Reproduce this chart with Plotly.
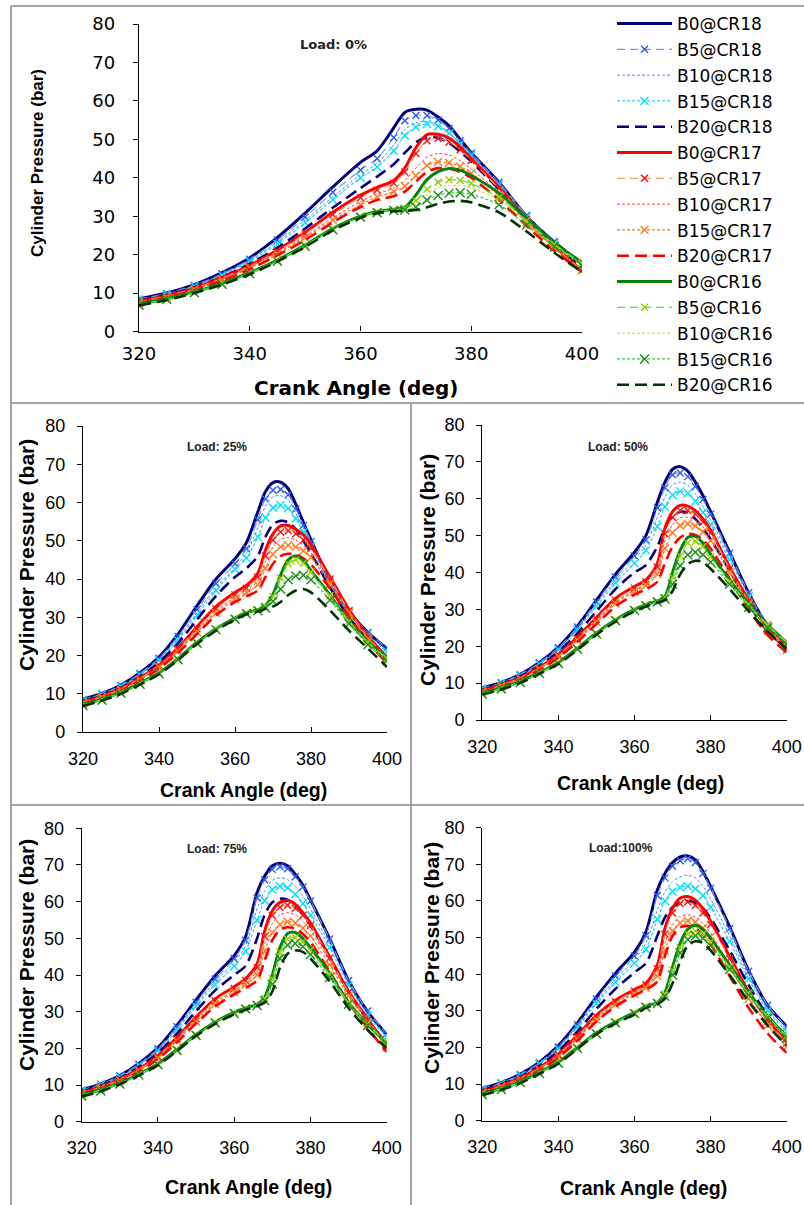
import plotly.graph_objects as go

# ---------------- data ----------------
CRANK_ANGLE = [320, 325, 330, 335, 340, 345, 350, 355, 360, 363, 366, 368,
               370, 372, 374, 376, 378, 380, 385, 390, 395, 400]

SERIES = ["B0@CR18", "B5@CR18", "B10@CR18", "B15@CR18", "B20@CR18",
          "B0@CR17", "B5@CR17", "B10@CR17", "B15@CR17", "B20@CR17",
          "B0@CR16", "B5@CR16", "B10@CR16", "B15@CR16", "B20@CR16"]

LOAD_LABELS = ["Load: 0%", "Load: 25%", "Load: 50%", "Load: 75%", "Load:100%"]

P_LOAD0 = [
    [8.5, 10.0, 12.2, 15.3, 19.2, 24.5, 30.8, 37.6, 44.0, 47.0, 53.0, 57.0, 57.8, 57.6, 55.8, 53.5, 50.0, 46.5, 38.8, 30.0, 23.3, 17.6],
    [8.4, 9.9, 12.0, 15.0, 18.8, 23.8, 29.8, 36.2, 42.0, 45.0, 50.5, 54.8, 56.2, 56.2, 55.0, 52.8, 49.6, 46.4, 38.8, 30.2, 23.4, 17.9],
    [8.3, 9.8, 11.9, 14.8, 18.5, 23.3, 29.0, 35.0, 40.8, 43.8, 48.5, 52.5, 54.3, 54.6, 53.7, 51.8, 49.0, 46.0, 38.4, 30.0, 23.2, 17.6],
    [8.2, 9.7, 11.8, 14.6, 18.2, 22.8, 28.3, 34.3, 40.0, 42.8, 47.0, 51.0, 53.2, 54.0, 53.4, 51.6, 48.8, 45.8, 38.2, 29.8, 23.0, 17.3],
    [8.0, 9.5, 11.5, 14.2, 17.6, 21.8, 26.8, 32.2, 37.3, 40.3, 43.5, 46.5, 49.2, 50.5, 50.4, 49.0, 46.8, 44.2, 37.0, 29.0, 22.3, 16.8],
    [7.8, 9.3, 11.3, 14.0, 17.2, 21.2, 25.8, 31.0, 35.5, 37.5, 39.3, 42.5, 47.8, 51.2, 51.3, 50.3, 48.0, 45.0, 37.5, 29.3, 22.2, 15.8],
    [7.7, 9.2, 11.2, 13.8, 17.0, 20.9, 25.4, 30.4, 34.8, 36.8, 38.6, 41.5, 46.3, 49.6, 50.2, 49.3, 47.3, 44.5, 37.2, 29.2, 22.0, 15.9],
    [7.6, 9.1, 11.0, 13.6, 16.7, 20.5, 24.8, 29.6, 33.8, 35.8, 37.3, 39.3, 42.5, 45.3, 46.3, 45.9, 44.4, 42.3, 36.0, 28.6, 21.8, 15.8],
    [7.5, 9.0, 10.9, 13.4, 16.5, 20.2, 24.4, 29.0, 33.0, 35.0, 36.4, 37.8, 40.6, 43.2, 44.1, 43.9, 42.9, 41.2, 35.4, 28.3, 21.8, 16.1],
    [7.4, 8.8, 10.7, 13.2, 16.2, 19.8, 23.8, 28.4, 32.4, 34.2, 35.2, 36.4, 39.0, 41.5, 42.5, 42.4, 41.5, 40.0, 34.3, 27.5, 21.0, 15.5],
    [7.2, 8.5, 10.3, 12.6, 15.3, 18.6, 22.5, 26.8, 30.0, 31.2, 31.8, 32.3, 35.5, 39.5, 41.6, 42.4, 42.0, 40.6, 36.0, 29.5, 23.0, 18.0],
    [7.0, 8.4, 10.2, 12.5, 15.2, 18.5, 22.4, 26.7, 29.9, 31.1, 31.7, 32.0, 34.0, 37.0, 38.8, 39.5, 39.3, 38.5, 34.8, 28.8, 22.7, 17.8],
    [7.0, 8.4, 10.2, 12.4, 15.1, 18.4, 22.3, 26.6, 29.8, 31.0, 31.6, 31.8, 33.3, 35.8, 37.4, 38.0, 38.0, 37.5, 34.2, 28.4, 22.4, 17.6],
    [6.8, 8.3, 10.1, 12.3, 15.0, 18.3, 22.2, 26.5, 29.7, 30.9, 31.5, 31.6, 32.4, 34.2, 35.4, 36.0, 36.1, 35.7, 33.0, 27.7, 22.1, 17.2],
    [6.8, 8.2, 10.0, 12.2, 14.9, 18.2, 22.0, 26.3, 29.6, 30.8, 31.3, 31.4, 31.6, 32.3, 33.2, 33.8, 34.0, 33.6, 31.0, 26.0, 20.5, 15.5],
]

P_LOAD25 = [
    [8.6, 10.1, 12.3, 15.5, 19.6, 25.6, 33.0, 40.0, 45.3, 49.5, 57.5, 62.8, 65.2, 65.3, 63.6, 59.5, 54.8, 50.2, 39.5, 31.5, 26.0, 21.8],
    [8.5, 10.0, 12.2, 15.3, 19.3, 25.0, 32.0, 38.8, 44.0, 48.0, 55.5, 61.0, 63.2, 63.4, 62.0, 58.3, 54.0, 49.8, 39.5, 31.6, 26.0, 22.0],
    [8.4, 9.9, 12.1, 15.1, 19.0, 24.5, 31.2, 37.8, 43.0, 46.8, 53.5, 59.0, 61.5, 61.8, 60.6, 57.2, 53.2, 49.2, 39.2, 31.3, 25.6, 21.5],
    [8.3, 9.8, 11.9, 14.9, 18.7, 24.0, 30.5, 37.0, 42.5, 45.5, 51.0, 56.0, 58.6, 59.3, 58.5, 55.8, 52.2, 48.5, 38.8, 31.0, 25.2, 21.0],
    [8.1, 9.6, 11.6, 14.5, 18.2, 23.2, 29.4, 35.6, 40.5, 42.8, 46.0, 51.0, 54.3, 55.2, 54.8, 53.0, 50.0, 46.8, 37.8, 30.0, 24.0, 19.5],
    [7.9, 9.4, 11.4, 14.2, 17.5, 22.0, 27.5, 32.8, 36.5, 38.3, 41.5, 47.5, 51.8, 53.9, 54.0, 53.0, 51.5, 49.0, 40.5, 32.0, 25.0, 19.5],
    [7.8, 9.3, 11.3, 14.0, 17.3, 21.7, 27.0, 32.2, 35.8, 37.6, 40.5, 46.0, 50.2, 52.3, 52.6, 51.8, 50.2, 48.0, 40.0, 31.7, 24.8, 19.2],
    [7.7, 9.2, 11.2, 13.8, 17.1, 21.4, 26.5, 31.6, 35.2, 37.0, 39.5, 44.5, 48.4, 50.4, 50.8, 50.2, 48.8, 46.8, 39.3, 31.4, 24.5, 19.0],
    [7.6, 9.1, 11.0, 13.6, 16.9, 21.1, 26.1, 31.1, 34.7, 36.4, 38.5, 42.8, 46.5, 48.4, 48.8, 48.4, 47.4, 45.6, 38.8, 31.2, 24.3, 18.8],
    [7.5, 8.9, 10.8, 13.4, 16.6, 20.7, 25.6, 30.5, 34.0, 35.5, 37.0, 40.5, 44.0, 46.0, 46.6, 46.4, 45.4, 43.8, 37.5, 30.2, 23.5, 18.0],
    [7.2, 8.6, 10.4, 12.8, 15.5, 19.2, 23.5, 27.0, 29.8, 31.2, 32.0, 33.0, 36.0, 41.0, 45.0, 46.0, 44.8, 42.2, 35.8, 29.0, 23.5, 19.5],
    [7.1, 8.5, 10.3, 12.7, 15.4, 19.1, 23.4, 26.9, 29.7, 31.1, 31.9, 32.8, 35.5, 40.2, 44.0, 45.0, 44.2, 41.8, 35.6, 29.0, 23.5, 19.3],
    [7.0, 8.4, 10.2, 12.6, 15.3, 19.0, 23.3, 26.8, 29.6, 31.0, 31.8, 32.6, 35.0, 39.3, 42.8, 44.0, 43.4, 41.3, 35.3, 28.8, 23.3, 19.1],
    [6.9, 8.3, 10.1, 12.5, 15.2, 18.9, 23.2, 26.7, 29.5, 30.9, 31.7, 32.4, 34.2, 37.3, 39.8, 40.8, 41.0, 39.8, 34.5, 28.3, 22.8, 18.6],
    [6.8, 8.2, 10.0, 12.4, 15.1, 18.8, 23.0, 26.5, 29.4, 30.8, 31.5, 32.2, 32.8, 34.0, 35.8, 37.0, 37.4, 36.5, 31.8, 26.5, 21.8, 17.0],
]

P_LOAD50 = [
    [8.7, 10.2, 12.4, 15.6, 19.8, 25.5, 32.5, 39.5, 45.5, 50.0, 59.0, 64.5, 68.0, 68.7, 67.5, 64.5, 60.8, 56.5, 45.5, 34.5, 25.5, 20.5],
    [8.6, 10.1, 12.3, 15.5, 19.6, 25.2, 32.0, 38.8, 44.5, 48.8, 57.5, 63.0, 66.5, 67.0, 66.0, 63.3, 59.8, 55.8, 45.2, 34.5, 25.8, 21.2],
    [8.5, 10.0, 12.2, 15.3, 19.3, 24.8, 31.5, 38.0, 43.5, 47.5, 55.0, 60.5, 63.8, 64.5, 63.7, 61.3, 58.0, 54.3, 44.3, 34.0, 25.5, 20.8],
    [8.4, 9.9, 12.0, 15.1, 19.0, 24.4, 30.8, 37.2, 42.5, 46.0, 52.5, 57.8, 61.0, 62.0, 61.5, 59.3, 56.3, 53.0, 43.5, 33.5, 25.2, 20.5],
    [8.2, 9.7, 11.8, 14.7, 18.5, 23.5, 29.5, 35.5, 40.0, 42.0, 47.0, 52.0, 55.2, 56.5, 56.2, 54.5, 52.0, 49.0, 40.5, 31.5, 24.0, 19.5],
    [8.0, 9.5, 11.5, 14.3, 17.8, 22.5, 27.8, 33.0, 36.2, 38.0, 42.5, 52.0, 56.5, 58.2, 58.0, 56.8, 54.5, 51.5, 41.5, 32.5, 25.0, 20.0],
    [7.9, 9.4, 11.4, 14.1, 17.6, 22.2, 27.4, 32.5, 35.7, 37.5, 41.5, 50.5, 55.0, 56.8, 56.8, 55.8, 53.7, 50.8, 41.0, 32.2, 24.8, 19.6],
    [7.8, 9.3, 11.3, 13.9, 17.4, 21.9, 27.0, 32.0, 35.2, 37.0, 40.5, 48.5, 53.0, 54.8, 55.0, 54.2, 52.4, 49.7, 40.5, 31.8, 24.5, 19.3],
    [7.7, 9.2, 11.2, 13.8, 17.2, 21.6, 26.6, 31.6, 34.8, 36.5, 39.5, 46.5, 50.8, 52.7, 53.2, 52.6, 51.0, 48.6, 40.0, 31.5, 24.3, 19.0],
    [7.6, 9.0, 10.9, 13.5, 16.9, 21.2, 26.0, 30.8, 34.0, 35.5, 37.5, 42.5, 47.0, 49.5, 50.5, 50.2, 48.8, 46.5, 38.3, 30.0, 23.0, 18.3],
    [7.3, 8.7, 10.5, 12.9, 15.6, 19.5, 23.6, 27.2, 30.0, 31.3, 32.3, 33.5, 40.0, 46.0, 49.5, 49.8, 48.0, 45.0, 38.0, 31.5, 25.8, 21.0],
    [7.2, 8.6, 10.4, 12.8, 15.5, 19.4, 23.5, 27.1, 29.9, 31.2, 32.2, 33.2, 38.8, 44.5, 48.0, 48.4, 47.0, 44.3, 37.6, 31.3, 25.8, 21.2],
    [7.1, 8.5, 10.3, 12.7, 15.4, 19.3, 23.4, 27.0, 29.8, 31.1, 32.1, 33.0, 37.8, 43.2, 46.5, 47.0, 46.0, 43.6, 37.3, 31.0, 25.5, 21.0],
    [7.0, 8.4, 10.2, 12.6, 15.3, 19.2, 23.3, 26.9, 29.7, 31.0, 32.0, 32.8, 36.8, 41.8, 44.8, 45.5, 44.8, 42.8, 36.8, 30.6, 25.0, 20.5],
    [6.9, 8.3, 10.1, 12.5, 15.2, 19.0, 23.1, 26.7, 29.5, 30.8, 31.8, 32.5, 35.0, 39.5, 42.3, 43.2, 42.8, 41.0, 35.5, 29.5, 24.0, 19.2],
]

P_LOAD75 = [
    [8.7, 10.3, 12.6, 15.9, 20.2, 26.3, 33.2, 39.8, 45.3, 50.5, 62.5, 67.0, 69.8, 70.5, 69.8, 67.5, 64.5, 60.5, 50.0, 38.5, 30.0, 23.8],
    [8.6, 10.2, 12.5, 15.7, 19.9, 25.9, 32.6, 38.9, 44.4, 49.5, 61.0, 66.0, 68.8, 69.5, 69.0, 66.8, 64.0, 60.2, 49.8, 38.5, 30.2, 24.0],
    [8.5, 10.1, 12.3, 15.5, 19.6, 25.5, 32.1, 38.2, 43.4, 48.0, 58.0, 63.0, 65.8, 66.5, 66.0, 64.2, 61.5, 58.0, 48.5, 37.8, 29.5, 23.5],
    [8.4, 10.0, 12.2, 15.3, 19.3, 25.0, 31.5, 37.4, 42.4, 46.5, 55.0, 60.3, 63.3, 64.2, 63.8, 62.0, 59.5, 56.3, 47.5, 37.2, 29.0, 23.0],
    [8.2, 9.8, 11.9, 14.9, 18.8, 24.0, 30.2, 35.8, 40.0, 42.5, 50.0, 56.5, 59.8, 60.8, 60.5, 59.0, 56.5, 53.5, 45.0, 35.5, 27.5, 21.5],
    [8.0, 9.5, 11.6, 14.4, 18.0, 23.0, 28.5, 33.5, 36.8, 39.0, 43.0, 52.0, 57.5, 59.8, 60.3, 59.3, 57.0, 54.2, 45.0, 35.5, 28.0, 21.0],
    [7.9, 9.4, 11.5, 14.2, 17.8, 22.7, 28.1, 33.0, 36.3, 38.5, 42.0, 50.5, 56.2, 58.5, 59.0, 58.2, 56.2, 53.5, 44.6, 35.3, 27.8, 20.8],
    [7.8, 9.3, 11.4, 14.0, 17.6, 22.4, 27.7, 32.5, 35.8, 38.0, 41.0, 48.5, 54.0, 56.4, 57.0, 56.4, 54.7, 52.2, 43.8, 34.8, 27.5, 20.6],
    [7.7, 9.2, 11.2, 13.9, 17.4, 22.1, 27.3, 32.0, 35.3, 37.4, 40.0, 46.5, 51.5, 53.8, 54.5, 54.2, 52.8, 50.6, 42.8, 34.2, 27.0, 20.3],
    [7.6, 9.1, 11.0, 13.6, 17.1, 21.7, 26.8, 31.4, 34.7, 36.5, 38.5, 44.0, 49.5, 52.3, 53.0, 52.6, 51.2, 49.0, 41.0, 32.5, 25.5, 19.0],
    [7.3, 8.7, 10.6, 13.0, 15.8, 19.7, 23.8, 27.2, 29.8, 31.0, 32.0, 34.0, 40.0, 47.5, 51.3, 51.6, 50.0, 47.5, 40.5, 32.5, 26.5, 21.5],
    [7.2, 8.6, 10.5, 12.9, 15.7, 19.6, 23.7, 27.1, 29.7, 30.9, 31.9, 33.6, 39.0, 46.3, 49.8, 50.2, 49.0, 46.8, 40.2, 32.5, 26.6, 21.8],
    [7.1, 8.5, 10.4, 12.8, 15.6, 19.5, 23.6, 27.0, 29.6, 30.8, 31.8, 33.3, 38.3, 45.5, 49.2, 49.6, 48.5, 46.3, 39.8, 32.3, 26.4, 21.6],
    [7.0, 8.4, 10.3, 12.7, 15.5, 19.4, 23.5, 26.9, 29.5, 30.7, 31.7, 33.0, 37.5, 44.5, 48.2, 48.6, 47.7, 45.6, 39.3, 32.0, 26.2, 21.3],
    [6.9, 8.3, 10.2, 12.6, 15.4, 19.3, 23.4, 26.7, 29.3, 30.5, 31.5, 32.5, 35.5, 42.0, 45.8, 46.7, 46.3, 44.5, 38.3, 31.0, 25.0, 20.0],
]

P_LOAD100 = [
    [8.8, 10.4, 12.7, 16.0, 20.5, 26.7, 33.8, 40.3, 46.0, 51.5, 63.0, 67.5, 70.5, 72.0, 72.3, 71.2, 68.0, 64.0, 53.0, 41.0, 31.5, 25.8],
    [8.7, 10.3, 12.6, 15.8, 20.2, 26.3, 33.2, 39.5, 45.0, 50.5, 61.5, 66.3, 69.5, 71.0, 71.5, 70.5, 67.5, 63.5, 52.5, 40.8, 31.5, 25.5],
    [8.6, 10.2, 12.4, 15.6, 19.9, 25.9, 32.6, 38.6, 44.0, 48.5, 57.5, 62.5, 65.3, 66.6, 67.0, 66.3, 64.0, 60.5, 50.5, 39.5, 30.5, 24.8],
    [8.5, 10.1, 12.3, 15.4, 19.6, 25.5, 32.0, 37.8, 43.0, 46.8, 55.0, 60.0, 62.6, 63.7, 64.0, 63.3, 61.5, 58.3, 49.0, 38.7, 30.0, 24.3],
    [8.3, 9.9, 12.0, 15.0, 19.0, 24.4, 30.5, 36.0, 40.5, 43.0, 50.5, 55.5, 58.3, 59.6, 60.0, 59.5, 58.0, 55.3, 46.5, 37.0, 28.7, 23.0],
    [8.0, 9.6, 11.7, 14.5, 18.2, 23.3, 28.8, 32.9, 35.8, 37.5, 42.5, 52.5, 58.0, 60.8, 61.2, 60.2, 57.8, 54.5, 44.8, 35.2, 27.5, 21.5],
    [7.9, 9.5, 11.6, 14.3, 18.0, 23.0, 28.4, 32.5, 35.4, 37.1, 41.5, 51.0, 56.7, 59.3, 59.7, 58.8, 56.7, 53.6, 44.2, 34.8, 27.2, 21.2],
    [7.8, 9.4, 11.4, 14.1, 17.7, 22.6, 28.0, 32.1, 35.0, 36.7, 40.5, 48.5, 53.5, 55.8, 56.2, 55.6, 53.8, 51.2, 42.5, 33.6, 26.3, 20.5],
    [7.7, 9.3, 11.3, 13.9, 17.5, 22.3, 27.6, 31.7, 34.6, 36.3, 39.5, 46.5, 51.8, 54.0, 54.6, 54.2, 52.6, 50.2, 42.0, 33.3, 26.0, 20.2],
    [7.6, 9.1, 11.1, 13.7, 17.2, 21.9, 27.1, 31.2, 34.2, 35.8, 38.0, 45.0, 50.5, 52.8, 53.2, 52.6, 50.8, 48.2, 39.5, 30.8, 23.8, 18.5],
    [7.4, 8.8, 10.7, 13.2, 16.0, 20.0, 24.0, 27.0, 29.5, 31.3, 32.3, 35.0, 42.0, 48.5, 52.3, 53.3, 52.2, 49.8, 42.5, 35.0, 28.5, 23.0],
    [7.3, 8.7, 10.6, 13.1, 15.9, 19.9, 23.9, 26.9, 29.4, 31.2, 32.2, 34.6, 41.0, 47.2, 51.0, 51.8, 51.0, 48.8, 42.0, 34.8, 28.5, 23.2],
    [7.2, 8.6, 10.5, 13.0, 15.8, 19.8, 23.8, 26.8, 29.3, 31.1, 32.1, 34.3, 40.5, 46.7, 50.5, 51.4, 50.6, 48.5, 41.8, 34.6, 28.3, 23.0],
    [7.1, 8.5, 10.4, 12.9, 15.7, 19.7, 23.7, 26.7, 29.2, 31.0, 32.0, 34.0, 39.8, 45.8, 49.5, 50.5, 49.8, 47.8, 41.3, 34.3, 28.0, 22.6],
    [7.0, 8.4, 10.3, 12.8, 15.6, 19.6, 23.6, 26.6, 29.0, 30.8, 31.8, 33.3, 37.5, 43.5, 47.8, 49.0, 48.5, 46.5, 39.8, 32.5, 26.0, 20.5],
]

X_TICKS = [320, 340, 360, 380, 400]
Y_TICKS = [0, 10, 20, 30, 40, 50, 60, 70, 80]

PANELS = [P_LOAD0, P_LOAD25, P_LOAD50, P_LOAD75, P_LOAD100]

# ---------------- styles ----------------
# (line colour, width, dash, marker colour or None, marker size)
STYLES = [
    ("#00007A", 3.0, "solid", None, 0),
    ("#6F9BF5", 1.2, "8px,5px", "#2E5BF0", 7),
    ("#5A87F0", 1.0, "3px,2px", None, 0),
    ("#2ECCF5", 1.2, "3px,2px", "#00E0FF", 8),
    ("#00007A", 2.6, "12px,6px", None, 0),
    ("#FF0000", 3.0, "solid", None, 0),
    ("#FF9A66", 1.2, "8px,5px", "#FF1010", 7),
    ("#FF4040", 1.0, "3px,2px", None, 0),
    ("#FF7A1A", 1.2, "3px,2px", "#FF7A1A", 8),
    ("#FF0000", 2.6, "12px,6px", None, 0),
    ("#0A800A", 3.0, "solid", None, 0),
    ("#3CF03C", 1.2, "8px,5px", "#9CCB00", 7),
    ("#C8D840", 1.0, "3px,2px", None, 0),
    ("#33CC33", 1.2, "3px,2px", "#1E8C1E", 9),
    ("#003300", 2.6, "12px,6px", None, 0),
]

W, H = 804, 1205


def fx(p):
    return p / W


def fy(p):
    return 1 - p / H


# plot rectangles in pixels: (left, right, top, bottom)
RECTS = [
    (139, 582, 24, 331.5),
    (83, 387, 426, 732),
    (482.3, 786.7, 425, 720),
    (81.7, 386.7, 828.3, 1121.7),
    (482.3, 786.7, 827.7, 1120.7),
]
# annotation pixel positions: (ytitle x,y), (xtitle x,y), (load label x,y)
ANN_POS = [
    ((38, 163), (356, 388), (333, 45)),
    ((27, 555), (243, 790), (217, 447)),
    ((427, 570), (640, 783), (618, 447)),
    ((26, 955), (248, 1187), (217, 849)),
    ((432, 958), (643, 1188), (621, 848)),
]

fig = go.Figure()

for p, panel in enumerate(PANELS):
    xa = "x" if p == 0 else f"x{p + 1}"
    ya = "y" if p == 0 else f"y{p + 1}"
    for s, name in enumerate(SERIES):
        col, wid, dash, mcol, msize = STYLES[s]
        kw = dict(
            x=CRANK_ANGLE, y=panel[s], name=name, xaxis=xa, yaxis=ya,
            legendgroup=name, showlegend=(p == 0),
            line=dict(color=col, width=wid, dash=dash, shape="spline", smoothing=0.8),
            hovertemplate=name + "<br>%{x}°: %{y} bar<extra></extra>",
        )
        if mcol:
            kw["mode"] = "lines+markers"
            kw["marker"] = dict(symbol="x-thin", size=msize, color=mcol,
                                line=dict(width=1.4, color=mcol))
        else:
            kw["mode"] = "lines"
        fig.add_trace(go.Scatter(**kw))

layout = dict(
    width=W, height=H, margin=dict(l=0, r=0, t=0, b=0),
    paper_bgcolor="white", plot_bgcolor="white",
    showlegend=True,
    legend=dict(
        x=fx(612), y=fy(6), xanchor="left", yanchor="top",
        font=dict(family="DejaVu Sans", size=17, color="black"),
        tracegroupgap=0.7, itemwidth=55, bgcolor="rgba(0,0,0,0)",
    ),
)

annotations = []
shapes = []
for p, (l, r, t, b) in enumerate(RECTS):
    sx = "" if p == 0 else str(p + 1)
    top = p == 0
    tfont = dict(family="DejaVu Sans" if top else "Liberation Sans, Arial",
                 size=18, color="black")
    layout["xaxis" + sx] = dict(
        domain=[fx(l), fx(r)], anchor="y" + sx, range=[320, 400],
        tickvals=X_TICKS, showline=True, linecolor="black", linewidth=1.3,
        ticks="inside", ticklen=5, tickcolor="black", showgrid=False,
        zeroline=False, automargin=False, tickfont=tfont,
        ticklabelstandoff=6 if top else 10,
    )
    layout["yaxis" + sx] = dict(
        domain=[fy(b), fy(t)], anchor="x" + sx, range=[0, 80],
        tickvals=Y_TICKS, showline=True, linecolor="black", linewidth=1.3,
        ticks="outside", ticklen=5, tickcolor="black", showgrid=False,
        zeroline=False, automargin=False, tickfont=tfont,
        ticklabelstandoff=14 if top else 8,
    )
    (yx, yy), (xx, xy), (lx, ly) = ANN_POS[p]
    annotations.append(dict(
        text="<b>Cylinder Pressure (bar)</b>", x=fx(yx), y=fy(yy),
        xref="paper", yref="paper", showarrow=False, textangle=-90,
        xanchor="center", yanchor="middle",
        font=dict(family="Liberation Sans, Arial", size=17 if top else 21, color="black"),
    ))
    annotations.append(dict(
        text="<b>Crank Angle (deg)</b>", x=fx(xx), y=fy(xy),
        xref="paper", yref="paper", showarrow=False,
        xanchor="center", yanchor="middle",
        font=dict(family="DejaVu Sans" if top else "Liberation Sans, Arial",
                  size=20 if top else 19.5, color="black"),
    ))
    annotations.append(dict(
        text="<b>" + LOAD_LABELS[p] + "</b>", x=fx(lx), y=fy(ly),
        xref="paper", yref="paper", showarrow=False,
        xanchor="center", yanchor="middle",
        font=dict(family="DejaVu Sans" if top else "Liberation Sans, Arial",
                  size=13 if top else 12, color="#222222"),
    ))

FRAME = "#8a8a8a"
for (x0, y0, x1, y1) in [(11, 6, 804, 6), (11, 403, 804, 403), (11, 805, 804, 805),
                         (11, 6, 11, 1205), (411, 403, 411, 1205)]:
    shapes.append(dict(type="line", xref="paper", yref="paper",
                       x0=fx(x0), y0=fy(y0), x1=fx(x1), y1=fy(y1),
                       line=dict(color=FRAME, width=1.5)))

layout["annotations"] = annotations
layout["shapes"] = shapes
fig.update_layout(**layout)

fig.write_html("out.html")
